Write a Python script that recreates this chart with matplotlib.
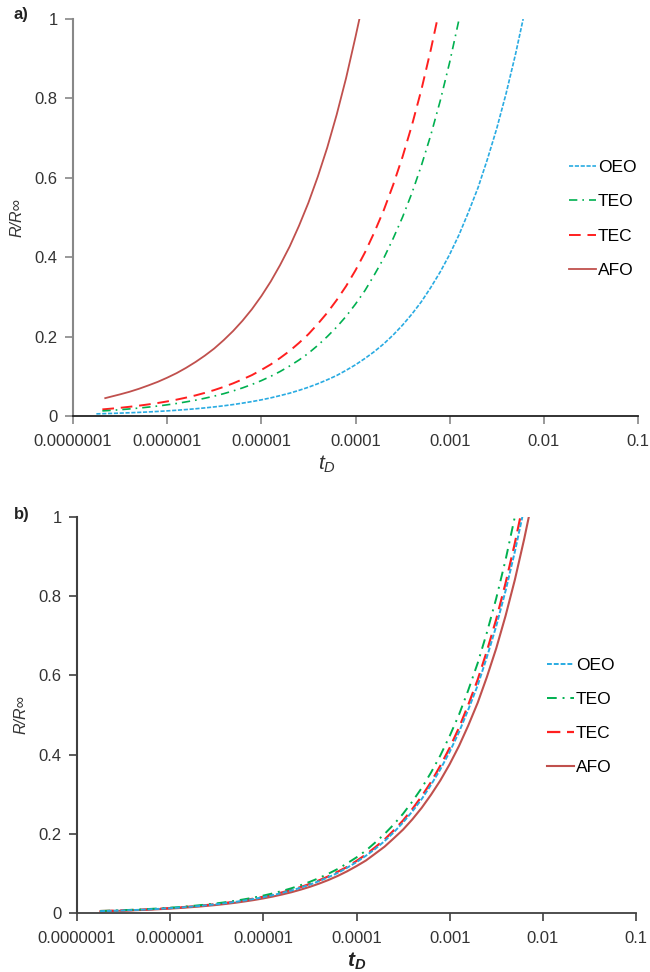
import matplotlib
matplotlib.use("Agg")
import matplotlib.pyplot as plt

plt.rcParams['font.family'] = ['Liberation Sans', 'DejaVu Sans']
plt.rcParams['mathtext.fontset'] = 'custom'
plt.rcParams['mathtext.it'] = 'Liberation Sans:italic'
plt.rcParams['mathtext.rm'] = 'Liberation Sans'
plt.rcParams['mathtext.bf'] = 'Liberation Sans:italic:bold'

# tD sampling grid used for reading the curves (tenths of a decade)
TD_GRID = [2.0e-7, 2.51e-7, 3.16e-7, 3.98e-7, 5.01e-7, 6.31e-7, 7.94e-7,
           1.0e-6, 1.26e-6, 1.58e-6, 2.0e-6, 2.51e-6, 3.16e-6, 3.98e-6, 5.01e-6, 6.31e-6, 7.94e-6,
           1.0e-5, 1.26e-5, 1.58e-5, 2.0e-5, 2.51e-5, 3.16e-5, 3.98e-5, 5.01e-5, 6.31e-5, 7.94e-5,
           1.0e-4, 1.26e-4, 1.58e-4, 2.0e-4, 2.51e-4, 3.16e-4, 3.98e-4, 5.01e-4, 6.31e-4, 7.94e-4,
           1.0e-3, 1.26e-3, 1.58e-3, 2.0e-3, 2.51e-3, 3.16e-3, 3.98e-3, 5.01e-3, 6.31e-3, 7.94e-3]

# ---------------- panel a: first / last tD and R/Rinf read on the grid ----------------
a_oeo_start, a_oeo_end = 1.77e-7, 6.03e-3
a_oeo_r = [0.0054, 0.00575, 0.00646, 0.00724, 0.00813, 0.00912, 0.0102, 0.0115, 0.0129, 0.0145, 0.0162,
           0.0182, 0.0204, 0.0229, 0.0257, 0.0288, 0.0324, 0.0363, 0.0407, 0.0457, 0.0513, 0.0575,
           0.0646, 0.0724, 0.0813, 0.0912, 0.102, 0.115, 0.129, 0.145, 0.162, 0.182, 0.204, 0.229,
           0.257, 0.288, 0.324, 0.363, 0.407, 0.457, 0.513, 0.575, 0.646, 0.724, 0.813, 0.912, 1.0]

a_teo_start, a_teo_end = 2.05e-7, 1.26e-3
a_teo_r = [0.0128, 0.0141, 0.0158, 0.0178, 0.0200, 0.0224, 0.0251, 0.0282, 0.0316, 0.0355, 0.0398,
           0.0447, 0.0501, 0.0562, 0.0631, 0.0708, 0.0794, 0.0891, 0.100, 0.112, 0.126, 0.141, 0.158,
           0.178, 0.200, 0.224, 0.251, 0.282, 0.316, 0.355, 0.398, 0.447, 0.501, 0.562, 0.631, 0.708,
           0.794, 0.891, 1.0]

a_tec_start, a_tec_end = 2.05e-7, 7.41e-4
a_tec_r = [0.0166, 0.0184, 0.0206, 0.0232, 0.0260, 0.0292, 0.0327, 0.0367, 0.0412, 0.0462, 0.0519,
           0.0582, 0.0653, 0.0733, 0.0822, 0.0923, 0.103, 0.116, 0.130, 0.146, 0.164, 0.184, 0.206,
           0.232, 0.260, 0.292, 0.327, 0.367, 0.412, 0.462, 0.519, 0.582, 0.653, 0.733, 0.822, 0.923, 1.0]

a_afo_start, a_afo_end = 2.2e-7, 1.1e-4
a_afo_r = [0.045, 0.0485, 0.0545, 0.061, 0.0685, 0.077, 0.086, 0.0965, 0.108, 0.121, 0.136, 0.152, 0.170,
           0.191, 0.214, 0.240, 0.269, 0.302, 0.339, 0.380, 0.427, 0.479, 0.537, 0.603, 0.676, 0.759,
           0.851, 0.955, 1.0]

# ---------------- panel b ----------------
b_oeo_start, b_oeo_end = 1.77e-7, 6.03e-3
b_oeo_r = [0.0054, 0.00575, 0.00646, 0.00724, 0.00813, 0.00912, 0.0102, 0.0115, 0.0129, 0.0145, 0.0162,
           0.0182, 0.0204, 0.0229, 0.0257, 0.0288, 0.0324, 0.0363, 0.0407, 0.0457, 0.0513, 0.0575,
           0.0646, 0.0724, 0.0813, 0.0912, 0.102, 0.115, 0.129, 0.145, 0.162, 0.182, 0.204, 0.229,
           0.257, 0.288, 0.324, 0.363, 0.407, 0.457, 0.513, 0.575, 0.646, 0.724, 0.813, 0.912, 1.0]

b_teo_start, b_teo_end = 1.78e-7, 5.01e-3
b_teo_r = [0.0060, 0.00631, 0.00708, 0.00794, 0.00891, 0.0100, 0.0112, 0.0126, 0.0141, 0.0158, 0.0178,
           0.0200, 0.0224, 0.0251, 0.0282, 0.0316, 0.0355, 0.0398, 0.0447, 0.0501, 0.0562, 0.0631,
           0.0708, 0.0794, 0.0891, 0.100, 0.112, 0.126, 0.141, 0.158, 0.178, 0.200, 0.224, 0.251,
           0.282, 0.316, 0.355, 0.398, 0.447, 0.501, 0.562, 0.631, 0.708, 0.794, 0.891, 1.0]

b_tec_start, b_tec_end = 1.78e-7, 5.75e-3
b_tec_r = [0.0056, 0.00589, 0.00661, 0.00741, 0.00832, 0.00933, 0.0105, 0.0117, 0.0132, 0.0148, 0.0166,
           0.0186, 0.0209, 0.0234, 0.0263, 0.0295, 0.0331, 0.0372, 0.0417, 0.0468, 0.0525, 0.0589,
           0.0661, 0.0741, 0.0832, 0.0933, 0.105, 0.117, 0.132, 0.148, 0.166, 0.186, 0.209, 0.234,
           0.263, 0.295, 0.331, 0.372, 0.417, 0.468, 0.525, 0.589, 0.661, 0.741, 0.832, 0.933, 1.0]

b_afo_start, b_afo_end = 1.78e-7, 7.08e-3
b_afo_r = [0.0050, 0.00531, 0.00596, 0.00668, 0.00750, 0.00841, 0.00944, 0.0106, 0.0119, 0.0133, 0.0150,
           0.0168, 0.0189, 0.0211, 0.0237, 0.0266, 0.0299, 0.0335, 0.0376, 0.0422, 0.0473, 0.0531,
           0.0596, 0.0668, 0.0750, 0.0841, 0.0944, 0.106, 0.119, 0.133, 0.150, 0.168, 0.189, 0.211,
           0.237, 0.266, 0.299, 0.335, 0.376, 0.422, 0.473, 0.531, 0.596, 0.668, 0.750, 0.841, 0.944, 1.0]

x_ticks = [1e-7, 1e-6, 1e-5, 1e-4, 1e-3, 1e-2, 1e-1]
x_tick_labels = ['0.0000001', '0.000001', '0.00001', '0.0001', '0.001', '0.01', '0.1']
y_ticks = [0, 0.2, 0.4, 0.6, 0.8, 1.0]
y_tick_labels = ['0', '0.2', '0.4', '0.6', '0.8', '1']
labels = ['OEO', 'TEO', 'TEC', 'AFO']

C_OEO = '#29ABE2'
C_TEO = '#00B050'
C_TEC = '#FF1F1F'
C_AFO = '#C0504D'


def series_t(start, end, r):
    t = [start] + [g for g in TD_GRID if start * 1.0001 < g < end * 0.9999] + [end]
    assert len(t) == len(r), (start, end, len(t), len(r))
    return t


fig = plt.figure(figsize=(6.5, 9.72), dpi=100)
ax_a = fig.add_axes([73/650, 1-416/972, 565/650, 397/972])
ax_b = fig.add_axes([77/650, 1-913.3/972, 559/650, 396.6/972])


def style(ax, left_col, bottom_col, tick_col):
    ax.set_xscale('log')
    ax.set_xlim(1e-7, 1e-1)
    ax.set_ylim(0, 1)
    ax.set_xticks(x_ticks)
    ax.set_xticklabels(x_tick_labels)
    ax.minorticks_off()
    ax.set_yticks(y_ticks)
    ax.set_yticklabels(y_tick_labels)
    for s in ['top', 'right']:
        ax.spines[s].set_visible(False)
    ax.spines['left'].set_color(left_col)
    ax.spines['left'].set_linewidth(1.5)
    ax.spines['bottom'].set_color(bottom_col)
    ax.spines['bottom'].set_linewidth(1.3)
    ax.tick_params(axis='y', direction='out', length=6, width=1.2, color=left_col,
                   labelsize=12, labelcolor='#333333', pad=5)
    ax.tick_params(axis='x', direction='out', length=6, width=1.2, color=tick_col,
                   labelsize=12, labelcolor='#333333', pad=7)


# ---- panel a ----
l4, = ax_a.plot(series_t(a_afo_start, a_afo_end, a_afo_r), a_afo_r, color=C_AFO, lw=1.3, ls='-')
l3, = ax_a.plot(series_t(a_tec_start, a_tec_end, a_tec_r), a_tec_r, color=C_TEC, lw=1.4, ls=(0, (6, 3.5)))
l2, = ax_a.plot(series_t(a_teo_start, a_teo_end, a_teo_r), a_teo_r, color=C_TEO, lw=1.2, ls=(0, (5, 3, 1, 3)))
l1, = ax_a.plot(series_t(a_oeo_start, a_oeo_end, a_oeo_r), a_oeo_r, color=C_OEO, lw=1.2, ls=(0, (2.5, 1)))
style(ax_a, '#888888', '#222222', '#888888')
ax_a.legend([l1, l2, l3, l4], labels, loc='upper left', bbox_to_anchor=(569/650, 1-160/972),
            bbox_transform=fig.transFigure, frameon=False, fontsize=12.5, handlelength=1.55,
            handletextpad=0.1, labelspacing=1.1, borderpad=0, borderaxespad=0)
ax_a.set_ylabel('R/R∞', fontsize=11.5, fontstyle='italic', color='#333333', labelpad=7)
ax_a.set_xlabel(r'$t_D$', fontsize=15, color='#333333')
ax_a.xaxis.set_label_coords(0.45, -0.095)
fig.text(14/650, 1-15/972, 'a)', fontsize=12, fontweight='bold', color='#222222', va='center')

# ---- panel b ----
m4, = ax_b.plot(series_t(b_afo_start, b_afo_end, b_afo_r), b_afo_r, color=C_AFO, lw=1.5, ls='-')
m3, = ax_b.plot(series_t(b_tec_start, b_tec_end, b_tec_r), b_tec_r, color=C_TEC, lw=1.6, ls=(0, (6, 3)))
m2, = ax_b.plot(series_t(b_teo_start, b_teo_end, b_teo_r), b_teo_r, color=C_TEO, lw=1.4, ls=(0, (5, 3, 1, 3)))
m1, = ax_b.plot(series_t(b_oeo_start, b_oeo_end, b_oeo_r), b_oeo_r, color=C_OEO, lw=1.4, ls=(0, (2.5, 1)))
style(ax_b, '#404040', '#404040', '#404040')
ax_b.legend([m1, m2, m3, m4], labels, loc='upper left', bbox_to_anchor=(547/650, 1-657.5/972),
            bbox_transform=fig.transFigure, frameon=False, fontsize=12.5, handlelength=1.55,
            handletextpad=0.1, labelspacing=1.1, borderpad=0, borderaxespad=0)
ax_b.set_ylabel('R/R∞', fontsize=11.5, fontstyle='italic', color='#333333', labelpad=7)
ax_b.set_xlabel(r'$\mathbf{t_D}$', fontsize=15, color='#222222')
ax_b.xaxis.set_label_coords(0.5, -0.095)
fig.text(14/650, 1-514/972, 'b)', fontsize=12, fontweight='bold', color='#222222', va='center')

fig.savefig('out.png', dpi=100)
